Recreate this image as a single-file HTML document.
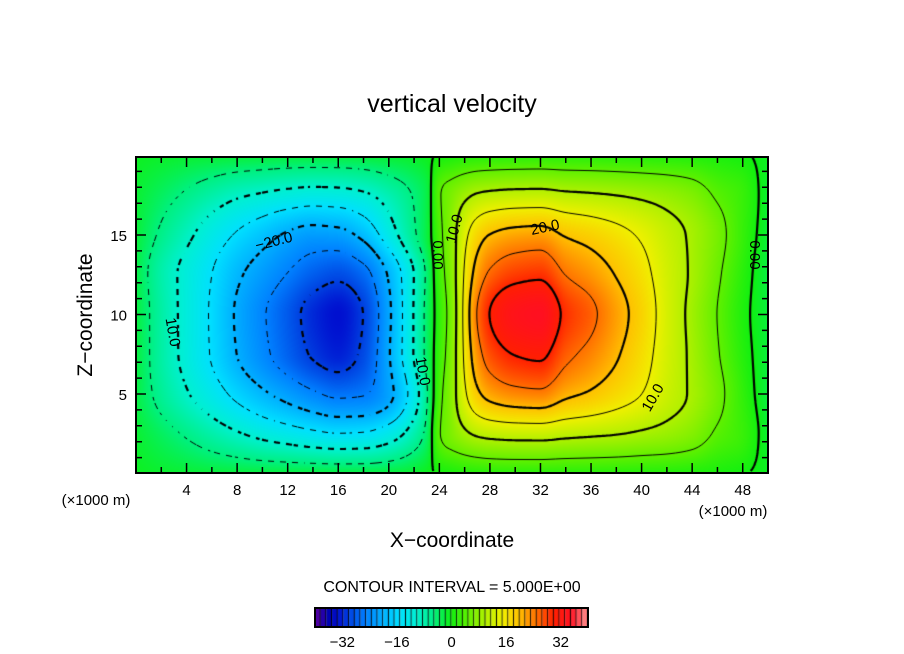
<!DOCTYPE html>
<html><head><meta charset="utf-8"><style>
html,body{margin:0;padding:0;background:#fff;}
#wrap{position:relative;width:904px;height:654px;overflow:hidden;font-family:"Liberation Sans",sans-serif;}
canvas,svg{position:absolute;left:0;top:0;}
</style></head><body>
<div id="wrap">
<canvas id="cv" width="904" height="654"></canvas>
<svg id="sv" width="904" height="654"></svg>
</div>
<script>
// x grid (km), z grid (km); field values in rows (one row per z)
const xGrid=[0,2,4,6,8,10,12,14,16,18,20,22,23,24,25,26,27,28,30,32,34,36,38,40,42,44,46,48,50];
const zGrid=[0,2.5,5,7.5,10,12.5,15,17.5,20];
const row0   =[-0.8,-1.3,-1.6,-1.8,-1.9,-2,-2,-2,-2,-2,-1.8,-1.2,-0.6, 0.3,0.6,1,1.2,1.4,1.5,1.5,1.4,1.4,1.3,1.2,1.1,0.9,0.6,0.2,-0.8];
const row2_5 =[-1.5,-3.5,-5.5,-7.6,-9.6,-11.4,-12.8,-14.1,-15,-14.7,-12.6,-7.9,-4, 4.6,7,9.2,10.7,11.4,11.9,12,11.3,10.8,10.3,9.5,8.6,7.2,4.5,2.5,-1.5];
const row5   =[-2.2,-6.3,-9.6,-12.8,-16.2,-19.2,-21.8,-24.3,-26,-25.4,-21.4,-12.6,-5.8, 3.5,7.9,14,19,21.6,23.5,24,21.1,19.5,17.4,15.1,12.1,9.5,6.2,2.1,-2.2];
const row7_5 =[-2,-7.2,-11.2,-15.3,-20,-23.8,-27.3,-30.4,-32,-29.2,-20.6,-9.9,-4, 2.5,7.4,15.5,22.9,27.1,30.2,31,26.3,23.7,20.6,17,12.8,9.3,5.4,1.4,-2];
const row10  =[-2,-7.2,-11.3,-15.5,-20.5,-24.4,-28,-31.4,-33,-30,-21.1,-9.9,-4, 2,7,16,25,30,34,35,29,26,22,18,13,9,5,1,-2];
const row12_5=[-2.3,-7.6,-11.2,-14.9,-19.1,-22.2,-25.1,-27.7,-29,-26.7,-19.6,-10.1,-4.5, 2.8,7.6,15.2,21.8,25.6,28.3,29,24.9,22.6,19.8,16.6,12.7,9.5,5.7,1.6,-2.3];
const row15  =[-1.8,-5.6,-8.9,-12.3,-15.4,-18,-20.5,-22,-21.6,-18.7,-12.5,-5.7,-2.2, 3.7,8,13.5,17.7,20,21.6,22,19.6,18.2,16.5,14.4,11.8,9.4,6.4,2.4,-1.8];
const row17_5=[-1.5,-3.5,-5.5,-7.5,-9.3,-10.4,-11.4,-12,-11.8,-10.7,-8.1,-4.7,-2.4, 4.5,6.8,8.9,10.3,10.9,11.4,11.5,10.8,10.4,9.9,9.2,8.3,7,4.5,2.5,-1.5];
const row20  =[-0.8,-1.1,-1.4,-1.5,-1.6,-1.7,-1.8,-1.8,-1.8,-1.7,-1.4,-1,-0.6, 0.3,0.6,1,1.2,1.3,1.4,1.5,1.4,1.4,1.3,1.2,1.1,1,0.7,0.3,-0.8];
const field=[row0,row2_5,row5,row7_5,row10,row12_5,row15,row17_5,row20];
const levels=[-30,-25,-20,-15,-10,-5,0,5,10,15,20,25,30];
const xTicks=[4,8,12,16,20,24,28,32,36,40,44,48];
const zTicks=[5,10,15];
const cbTicks=[-32,-16,0,16,32];

const PX0=136,PX1=768,PY0=157,PY1=473;
const xs=v=>PX0+(v/50)*(PX1-PX0);
const zs=v=>473.5-v*15.9;
const CB0=315,CB1=588,CBY=608,CBH=19;
const cbx=v=>CB0+(v+40)/80*(CB1-CB0);

const stops=[[-40,[96,0,160]],[-36,[0,0,176]],[-33,[0,16,208]],[-30,[0,64,224]],[-25,[0,128,255]],[-20,[0,176,255]],[-15,[0,224,255]],[-10,[0,240,208]],[-5,[0,240,128]],[0,[16,240,16]],[5,[96,240,0]],[10,[176,240,0]],[15,[240,240,0]],[20,[255,192,0]],[25,[255,112,0]],[30,[255,32,0]],[35,[255,16,32]],[40,[255,144,144]]];
function cmap(v){v=Math.max(-40,Math.min(40,v));for(let i=0;i<stops.length-1;i++){const a=stops[i],b=stops[i+1];if(v<=b[0]){const t=(v-a[0])/(b[0]-a[0]);return a[1].map((c,k)=>Math.round(c+(b[1][k]-c)*t));}}return stops[stops.length-1][1];}
function slopes(X,Y){const n=X.length,d=[],m=[];for(let i=0;i<n-1;i++)d.push((Y[i+1]-Y[i])/(X[i+1]-X[i]));m.push(d[0]);for(let i=1;i<n-1;i++){m.push(d[i-1]*d[i]<=0?0:(3*(X[i+1]-X[i-1]))/((2*X[i+1]-X[i]-X[i-1])/d[i-1]+(X[i+1]+X[i]-2*X[i-1])/d[i]));}m.push(d[n-2]);return m;}
function pchip(X,Y,M,x){let i=0;while(i<X.length-2&&x>X[i+1])i++;const h=X[i+1]-X[i],t=Math.max(0,Math.min(1,(x-X[i])/h));const t2=t*t,t3=t2*t;return (2*t3-3*t2+1)*Y[i]+(t3-2*t2+t)*h*M[i]+(-2*t3+3*t2)*Y[i+1]+(t3-t2)*h*M[i+1];}
const rowM=field.map(r=>slopes(xGrid,r));

const cv=document.getElementById('cv');const ctx=cv.getContext('2d');
const W=PX1-PX0,H=PY1-PY0;const img=ctx.createImageData(W,H);
const F=[];for(let py=0;py<H;py++)F.push(new Float32Array(W));
for(let px=0;px<W;px++){const x=(px+0.5)/W*50;const col=field.map((r,i)=>pchip(xGrid,r,rowM[i],x));const cm=slopes(zGrid,col);
 for(let py=0;py<H;py++){const z=Math.max(0,Math.min(20,(473.5-(PY0+py+0.5))/15.9));const v=pchip(zGrid,col,cm,z);F[py][px]=v;const c=cmap(v);const o=(py*W+px)*4;img.data[o]=c[0];img.data[o+1]=c[1];img.data[o+2]=c[2];img.data[o+3]=255;}}
ctx.putImageData(img,PX0,PY0);
const S=2;
levels.forEach(L=>{
 ctx.beginPath();ctx.strokeStyle='#000';ctx.lineWidth=(L%10===0)?2.2:1;
 for(let y=0;y+S<H;y+=S){for(let x=0;x+S<W;x+=S){
  const a=F[y][x],b=F[y][x+S],c=F[y+S][x+S],d=F[y+S][x];const pts=[];
  const e=(v1,v2,x1,y1,x2,y2)=>{if((v1-L)*(v2-L)<0){const t=(L-v1)/(v2-v1);pts.push([x1+(x2-x1)*t,y1+(y2-y1)*t]);}};
  e(a,b,x,y,x+S,y);e(b,c,x+S,y,x+S,y+S);e(c,d,x+S,y+S,x,y+S);e(d,a,x,y+S,x,y);
  for(let k=0;k+1<pts.length;k+=2){const p=pts[k],q=pts[k+1];const mx=(p[0]+q[0])/2,my=(p[1]+q[1])/2;
   if(L<0&&((Math.floor(mx/6)+Math.floor(my/6))%2!==0))continue;
   ctx.moveTo(PX0+p[0],PY0+p[1]);ctx.lineTo(PX0+q[0],PY0+q[1]);}
 }}
 ctx.stroke();
});
const nb=48;for(let k=0;k<nb;k++){const v0=-40+80*k/nb,v1=-40+80*(k+1)/nb;const c=cmap((v0+v1)/2);ctx.fillStyle=`rgb(${c[0]},${c[1]},${c[2]})`;const x0=cbx(v0),x1=cbx(v1);ctx.fillRect(x0,CBY,x1-x0,CBH);ctx.fillStyle='#000';ctx.fillRect(x1-1,CBY,1,CBH);}

const sv=document.getElementById('sv');const NS='http://www.w3.org/2000/svg';
function mk(tag,attrs,name,text){const el=document.createElementNS(NS,tag);for(const k in attrs)el.setAttribute(k,attrs[k]);


if(text!==undefined)el.textContent=text;sv.appendChild(el);return el;}
mk('rect',{x:PX0,y:PY0,width:W,height:H,fill:'none',stroke:'#000','stroke-width':2},'plot-frame');
mk('rect',{x:CB0,y:CBY,width:CB1-CB0,height:CBH,fill:'none',stroke:'#000','stroke-width':2},'colorbar-frame');
let tk='';
for(let v=2;v<50;v+=2){const L=(v%4===0)?10:6;const x=xs(v);tk+=`M${x},${PY1}v${-L}M${x},${PY0}v${L}`;}
for(let v=1;v<20;v++){const L=(v%5===0)?10:6;const y=zs(v);tk+=`M${PX0},${y}h${L}M${PX1},${y}h${-L}`;}
mk('path',{d:tk,stroke:'#000','stroke-width':1.5,fill:'none'},'axis-ticks');
xTicks.forEach(v=>{mk('text',{x:xs(v),y:495,'font-size':15,'text-anchor':'middle'},'x-tick-label',String(v));});
zTicks.forEach(v=>{mk('text',{x:127,y:zs(v)+6,'font-size':15,'text-anchor':'end'},'z-tick-label',String(v));});
cbTicks.forEach(v=>{mk('text',{x:cbx(v),y:647,'font-size':15,'text-anchor':'middle'},'colorbar-tick-label',v<0?'−'+(-v):String(v));});
mk('text',{x:452,y:112,'font-size':25,'text-anchor':'middle'},'chart-title','vertical velocity');
mk('text',{x:96,y:505,'font-size':15,'text-anchor':'middle'},'x-unit-left','(×1000 m)');
mk('text',{x:733,y:516,'font-size':15,'text-anchor':'middle'},'x-unit-right','(×1000 m)');
mk('text',{x:452,y:547,'font-size':21,'text-anchor':'middle'},'x-axis-title','X−coordinate');
mk('text',{x:0,y:0,'font-size':21,'text-anchor':'middle',transform:'translate(92,315) rotate(-90)'},'y-axis-title','Z−coordinate');
mk('text',{x:452,y:592,'font-size':16,'text-anchor':'middle'},'contour-interval-label','CONTOUR INTERVAL = 5.000E+00');
const labs=[[275,246,-14,'−20.0'],[168,333,80,'10.0'],[418,372,80,'10.0'],[433,255,90,'0.00'],[459,230,-75,'10.0'],[546,232,-12,'20.0'],[657,400,-60,'10.0'],[750,255,90,'0.00']];
labs.forEach(l=>{mk('text',{x:0,y:0,'font-size':15,'text-anchor':'middle',transform:`translate(${l[0]},${l[1]}) rotate(${l[2]})`},'contour-label',l[3]);});
</script>
</body></html>
